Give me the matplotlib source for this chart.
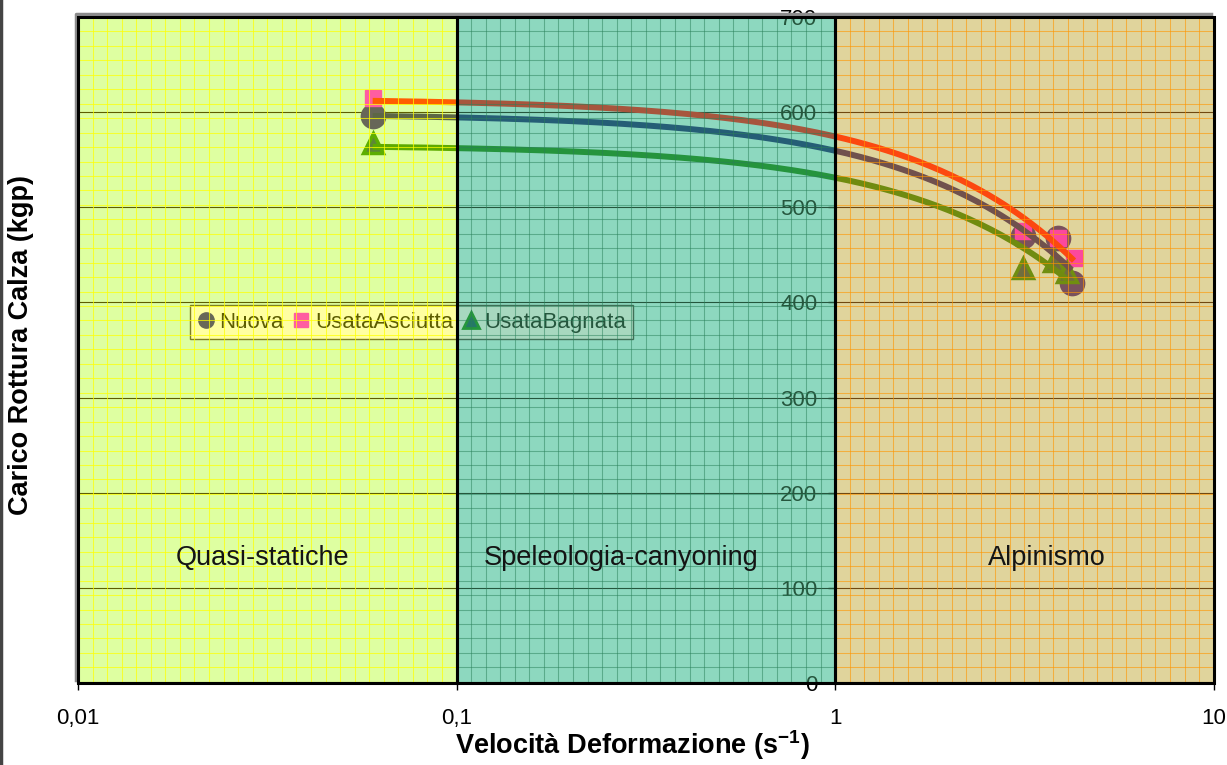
"""Carico rottura calza vs velocità di deformazione, with Excel-style regions."""

import numpy as np
import matplotlib.pyplot as plt
from matplotlib import transforms
from matplotlib.lines import Line2D
from matplotlib.patches import Rectangle

plt.rcParams['font.family'] = ['Liberation Sans', 'DejaVu Sans']
plt.rcParams['mathtext.fontset'] = 'custom'
plt.rcParams['mathtext.rm'] = 'Liberation Sans'
plt.rcParams['mathtext.bf'] = 'Liberation Sans:bold'

# ---- Data ----
x_nuova = [0.06, 3.13, 3.87, 4.21]
y_nuova = [596, 470, 468, 420]
x_asciutta = [0.06, 3.13, 3.87, 4.27]
y_asciutta = [615, 475, 468, 447]
x_bagnata = [0.06, 3.13, 3.78, 4.10]
y_bagnata = [568, 436, 444, 432]

series_names = ["Nuova", "UsataAsciutta", "UsataBagnata"]

region_edges = [0.01, 0.1, 1, 10]
region_names = ["Quasi-statiche", "Speleologia-canyoning", "Alpinismo"]
region_label_x = [0.0308, 0.272, 3.62]
region_label_y = 131

xticks = [0.01, 0.1, 1, 10]
xticklabels = ["0,01", "0,1", "1", "10"]
yticks = [0, 100, 200, 300, 400, 500, 600, 700]

# ---- Styles ----
PLOT_BG = '#CCFFFF'
REGION_FILL = [(1.00, 1.00, 0.00, 0.37),
               (0.30, 0.69, 0.49, 0.49),
               (0.98, 0.63, 0.14, 0.45)]
REGION_PATTERN = [(1.00, 1.00, 0.00, 0.70),
                  (0.16, 0.50, 0.35, 0.50),
                  (1.00, 0.59, 0.00, 0.60)]

fig = plt.figure(figsize=(12.27, 7.65), dpi=100)
ax = fig.add_axes([0.06357, 0.10719, 0.92583, 0.87059])
ax.set_facecolor(PLOT_BG)
ax.set_xscale('log')
ax.set_xlim(region_edges[0], region_edges[-1])
ax.set_ylim(0, 700)

# major horizontal gridlines (below everything)
ax.set_axisbelow(True)
ax.yaxis.grid(True, color='black', lw=0.8)
ax.xaxis.grid(False)

# ---- Markers ----
ax.plot(x_nuova, y_nuova, ls='none', marker='o', ms=17, mfc='#10108C',
        mec='#10108C', mew=1.5, zorder=3)
ax.plot(x_asciutta, y_asciutta, ls='none', marker='s', ms=12, mfc='#FF00FF',
        mec='#FF00FF', zorder=3.1)
ax.plot(x_bagnata, y_bagnata, ls='none', marker='^', ms=14, mfc='#004455',
        mec='#008000', mew=2.5, zorder=3.2)

# ---- Linear trend lines (drawn over the markers, as in Excel) ----
for xs, ys, col in [(x_nuova, y_nuova, '#001070'),
                    (x_asciutta, y_asciutta, '#FF0000'),
                    (x_bagnata, y_bagnata, '#007A00')]:
    coef = np.polyfit(xs, ys, 1)
    xx = np.geomspace(min(xs), max(xs), 200)
    ax.plot(xx, np.polyval(coef, xx), color=col, lw=4.3,
            solid_capstyle='butt', zorder=4)

# ---- Region labels ----
for name, lx in zip(region_names, region_label_x):
    ax.text(lx, region_label_y, name, ha='center', va='center',
            fontsize=19.5, color='#141414', zorder=9)

# ---- Legend ----
handles = [
    Line2D([], [], ls='none', marker='o', ms=11, mfc='#10108C', mec='#10108C'),
    Line2D([], [], ls='none', marker='s', ms=10, mfc='#FF00FF', mec='#FF00FF'),
    Line2D([], [], ls='none', marker='^', ms=11, mfc='#004455', mec='#008000',
           mew=2),
]
leg = ax.legend(handles, series_names, ncol=3, loc='center',
                bbox_to_anchor=(0.2936, 0.542), frameon=True, fancybox=False,
                edgecolor='#333333', facecolor='white', framealpha=1,
                fontsize=16, handlelength=0.8, handletextpad=0.2,
                columnspacing=0.4, borderpad=0.3, borderaxespad=0)
leg.get_frame().set_linewidth(1.0)
leg.set_zorder(5)

# ---- Region overlays with grid pattern ----
dlog = 0.03845   # pattern spacing in decades
dy = 15.19       # pattern spacing in kgp
pat_x = 10 ** (np.log10(region_edges[0]) + dlog * np.arange(1, 80))
pat_y = 700 - dy * np.arange(1, 47)
pat_y = pat_y[pat_y > 0]
for i in range(3):
    lo, hi = region_edges[i], region_edges[i + 1]
    ax.add_patch(Rectangle((lo, 0), hi - lo, 700, facecolor=REGION_FILL[i],
                           edgecolor='none', zorder=6))
    vx = pat_x[(pat_x > lo) & (pat_x < hi)]
    ax.vlines(vx, 0, 700, colors=[REGION_PATTERN[i]], lw=0.75, zorder=7)
    ax.hlines(pat_y, lo, hi, colors=[REGION_PATTERN[i]], lw=0.75, zorder=7)
    ax.add_patch(Rectangle((lo, 0), hi - lo, 700, fill=False,
                           edgecolor='black', lw=2.2, zorder=8, clip_on=False))

# gray plot-area border on left and top
off = transforms.offset_copy(ax.transAxes, fig=fig, x=-2.5, y=2.5, units='dots')
ax.add_line(Line2D([0, 0, 1], [0, 1, 1], transform=off, color='#8C8C8C',
                   lw=2.5, clip_on=False, zorder=7.5))

# ---- Axes, ticks ----
ax.spines['left'].set_position(('data', 1))
ax.spines['left'].set_color('black')
ax.spines['top'].set_visible(False)
ax.spines['right'].set_visible(False)
ax.spines['bottom'].set_linewidth(1.5)

ax.set_xticks(xticks)
ax.set_xticklabels(xticklabels)
ax.xaxis.set_minor_locator(plt.NullLocator())
ax.set_yticks(yticks)
ax.tick_params(axis='x', direction='out', length=5, width=1, pad=13,
               labelsize=16)
ax.tick_params(axis='y', direction='out', length=5, width=1, pad=8,
               labelsize=16)

ax.set_xlabel(r'Velocità Deformazione (s$^{\mathbf{-1}}$)', fontsize=19.5,
              fontweight='bold')
ax.xaxis.set_label_coords(0.4877, -0.068)
ax.set_ylabel('Carico Rottura Calza (kgp)', fontsize=19.5, fontweight='bold')
ax.yaxis.set_label_coords(-0.0385, 0.507)

# chart border at the left edge of the picture
fig.add_artist(Line2D([0.0012, 0.0012], [0, 1], color='#444444', lw=2.5))

fig.savefig('out.png', dpi=100)
